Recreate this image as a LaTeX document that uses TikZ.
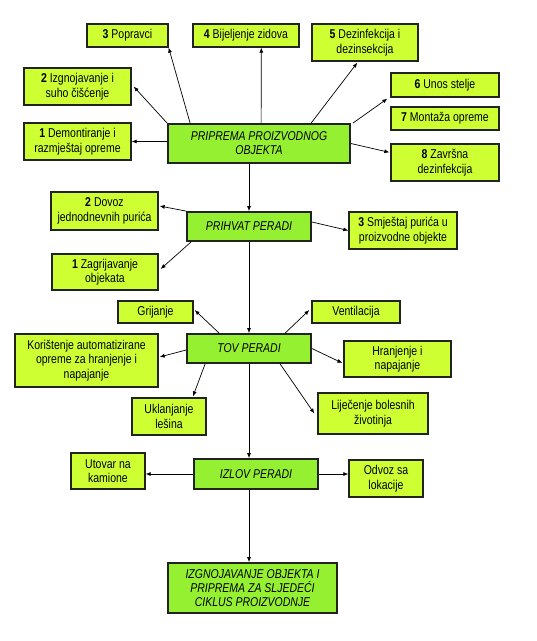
\documentclass[tikz,border=0pt]{standalone}
\usepackage{fontspec}
\setmainfont[FakeStretch=0.82]{Liberation Sans}
\usetikzlibrary{calc,arrows.meta}
\definecolor{sidefill}{RGB}{206,255,51}
\definecolor{mainfill}{RGB}{150,240,50}
\definecolor{edge}{RGB}{35,35,30}
\begin{document}
\begin{tikzpicture}[x=1pt,y=-1pt,
  box/.style={draw=edge,align=center,inner sep=1pt,font=\fontsize{12.8}{14.6}\selectfont},
  side/.style={box,fill=sidefill,line width=1.3pt},
  main/.style={box,fill=mainfill,line width=1.8pt,font=\fontsize{12.8}{14}\selectfont\itshape},
  arr/.style={-{Latex[length=5pt,width=4pt]},line width=0.7pt,draw=black}]
\useasboundingbox (0,0) rectangle (537,641);
\fill[white] (0,0) rectangle (537,641);
% stage 1
\node[main,minimum width=182,minimum height=39] (prip) at (259,143.5) {PRIPREMA PROIZVODNOG\\OBJEKTA};
\node[side,minimum width=81,minimum height=23] (pop) at (127.5,35.5) {\textbf{3} Popravci};
\node[side,minimum width=106,minimum height=23] (bij) at (246,35.5) {\textbf{4} Bijeljenje zidova};
\node[side,minimum width=106,minimum height=37] (dez) at (365,42.5) {\textbf{5} Dezinfekcija i\\dezinsekcija};
\node[side,minimum width=107,minimum height=37] (izg) at (77.5,86.5) {\textbf{2} Izgnojavanje i\\suho čišćenje};
\node[side,minimum width=107,minimum height=37] (dem) at (77.5,141.5) {\textbf{1} Demontiranje i\\razmještaj opreme};
\node[side,minimum width=108,minimum height=24] (uno) at (445,85) {\textbf{6} Unos stelje};
\node[side,minimum width=108,minimum height=23] (mon) at (445,118.5) {\textbf{7} Montaža opreme};
\node[side,minimum width=108,minimum height=37] (zav) at (445,162.5) {\textbf{8} Završna\\dezinfekcija};
% stage 2
\node[main,minimum width=124,minimum height=29] (prih) at (249,226.5) {PRIHVAT PERADI};
\node[side,minimum width=107,minimum height=38] (dov) at (104.5,211) {\textbf{2} Dovoz\\jednodnevnih purića};
\node[side,minimum width=108,minimum height=37] (smj) at (403,230.5) {\textbf{3} Smještaj purića u\\proizvodne objekte};
\node[side,minimum width=106,minimum height=36] (zag) at (105,272) {\textbf{1} Zagrijavanje\\objekata};
% stage 3
\node[main,minimum width=124,minimum height=29] (tov) at (249,348.5) {TOV PERADI};
\node[side,minimum width=75,minimum height=22] (gri) at (155.5,312) {Grijanje};
\node[side,minimum width=88,minimum height=22] (ven) at (356,312) {Ventilacija};
\node[side,minimum width=143,minimum height=53] (kor) at (86.5,360.5) {Korištenje automatizirane\\opreme za hranjenje i\\napajanje};
\node[side,minimum width=107,minimum height=36] (hra) at (397.5,359) {Hranjenje i\\napajanje};
\node[side,minimum width=74,minimum height=37] (ukl) at (169,416.5) {Uklanjanje\\lešina};
\node[side,minimum width=110,minimum height=41] (lij) at (373,413.5) {Liječenje bolesnih\\životinja};
% stage 4
\node[main,minimum width=124,minimum height=30] (izl) at (256,474) {IZLOV PERADI};
\node[side,minimum width=74,minimum height=36] (utov) at (108,471) {Utovar na\\kamione};
\node[side,minimum width=74,minimum height=37] (odv) at (386,478.5) {Odvoz sa\\lokacije};
% stage 5
\node[main,minimum width=169,minimum height=50] (izgn) at (252.5,588) {IZGNOJAVANJE OBJEKTA I\\PRIPREMA ZA SLJEDEĆI\\CIKLUS PROIZVODNJE};
% main flow
\draw[arr] (prih.north |- prip.south) -- (prih.north);
\draw[arr] (prih.south) -- (tov.north);
\draw[arr] (tov.south) -- (tov.south |- izl.north);
\draw[arr] (tov.south |- izl.south) -- (tov.south |- izgn.north);
% stage 1 arrows
\draw[arr] ($(prip.north west)+(23,0)$) -- (pop.south east);
\draw[arr] ($(prip.north west)+(94,0)$) -- ($(bij.south west)+(69,0)$);
\draw[arr] ($(prip.north west)+(144,0)$) -- ($(dez.south west)+(46,1)$);
\draw[arr] (prip.north west) -- ($(izg.east)+(2,0)$);
\draw[arr] (prip.west |- dem.east) -- (dem.east);
\draw[arr] ($(prip.north east)+(2,0)$) -- ($(uno.south west)+(-3,1)$);
\draw[arr] (prip.east) -- ($(zav.north west)+(-1,9)$);
% stage 2 arrows
\draw[arr] (prih.north west) -- ($(dov.east)+(1,-5)$);
\draw[arr] ($(prih.east)+(0,-4.5)$) -- (smj.west);
\draw[arr] ($(prih.south west)+(5,0)$) -- ($(zag.east)+(2,-3)$);
% stage 3 arrows
\draw[arr] ($(tov.north west)+(33,0)$) -- ($(gri.east)+(1,-2)$);
\draw[arr] ($(tov.north west)+(99,0)$) -- ($(ven.west)+(-2,-2)$);
\draw[arr] ($(tov.west)+(0,1.5)$) -- ($(kor.east)+(1,-3.5)$);
\draw[arr] (tov.east) -- ($(hra.west)+(-1,4)$);
\draw[arr] ($(tov.south west)+(19,0)$) -- ($(ukl.north)+(24,-1)$);
\draw[arr] ($(tov.south west)+(94,0)$) -- ($(lij.west)+(-3,0)$);
% stage 4 arrows
\draw[arr] (izl.west) -- (izl.west -| utov.east);
\draw[arr] (izl.east) -- (izl.east -| odv.west);
\end{tikzpicture}
\end{document}
